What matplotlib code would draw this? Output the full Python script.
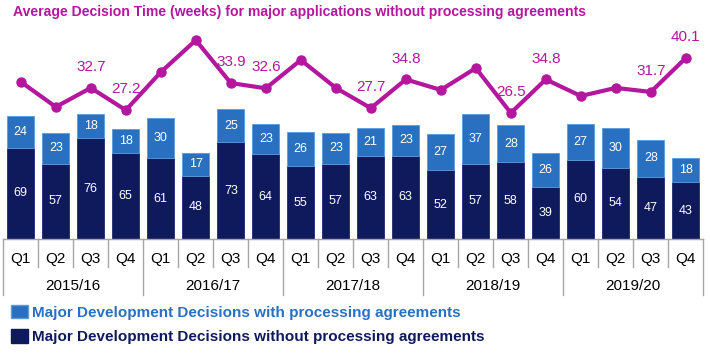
import matplotlib
matplotlib.use("Agg")
import matplotlib.pyplot as plt
import numpy as np
from matplotlib.patches import Patch

plt.rcParams['font.family'] = ['Liberation Sans', 'DejaVu Sans']

quarters = ["Q1", "Q2", "Q3", "Q4"] * 5
years = ["2015/16", "2016/17", "2017/18", "2018/19", "2019/20"]
without_pa = [69, 57, 76, 65, 61, 48, 73, 64, 55, 57, 63, 63, 52, 57, 58, 39, 60, 54, 47, 43]
with_pa = [24, 23, 18, 18, 30, 17, 25, 23, 26, 23, 21, 23, 27, 37, 28, 26, 27, 30, 28, 18]
avg_weeks = [34.2, 28.0, 32.7, 27.2, 36.6, 44.5, 33.9, 32.6, 39.6, 32.7,
             27.7, 34.8, 32.2, 37.6, 26.5, 34.8, 30.7, 32.7, 31.7, 40.1]
labelled = [2, 3, 6, 7, 10, 11, 14, 15, 18, 19]

C_LIGHT = "#2A70C0"
C_LIGHT_EDGE = "#5C9BD8"
C_DARK = "#0E1A5C"
C_MAG = "#B4169E"
C_GRID = "#A6A6A6"

fig = plt.figure(figsize=(7.1, 3.57), dpi=100)
W, H = 710, 357
ax_bottom_px, ax_top_px = 239.3, 30
ax = fig.add_axes([3.3 / W, 1 - ax_bottom_px / H, 700 / W, (ax_bottom_px - ax_top_px) / H])

x = np.arange(len(quarters))
bw = 0.78
b1 = ax.bar(x, without_pa, bw, color=C_DARK, edgecolor="#1F2B70", linewidth=0.6, zorder=2)
b2 = ax.bar(x, with_pa, bw, bottom=without_pa, color=C_LIGHT, edgecolor=C_LIGHT_EDGE,
            linewidth=0.6, zorder=2)

for i in range(len(x)):
    ax.text(x[i], without_pa[i] / 2, str(without_pa[i]), ha="center", va="center",
            color="white", fontsize=9, zorder=3)
    ax.text(x[i], without_pa[i] + with_pa[i] / 2, str(with_pa[i]), ha="center", va="center",
            color="white", fontsize=9, zorder=3)

ax.set_xlim(-0.5, len(x) - 0.5)
ax.set_ylim(0, 157.5)
ax.set_yticks([])
ax.set_xticks([])
for s in ["top", "right", "left"]:
    ax.spines[s].set_visible(False)
ax.spines["bottom"].set_color(C_GRID)
ax.spines["bottom"].set_linewidth(1.0)

# category axis separators and labels
trans = ax.get_xaxis_transform()
span = ax_bottom_px - ax_top_px
q_y = -(259 - ax_bottom_px) / span
yr_y = -(286 - ax_bottom_px) / span
q_line = -(267 - ax_bottom_px) / span
g_line = -(295 - ax_bottom_px) / span
for k in range(len(x) + 1):
    xb = k - 0.5
    low = g_line if k % 4 == 0 else q_line
    ax.plot([xb, xb], [0, low], transform=trans, color=C_GRID, lw=1.0, clip_on=False)
for i, q in enumerate(quarters):
    ax.text(x[i], q_y, q, transform=trans, ha="center", va="center", fontsize=11, color="black")
for g, yr in enumerate(years):
    ax.text(g * 4 + 1.5, yr_y, yr, transform=trans, ha="center", va="center", fontsize=11,
            color="black")

# line on secondary axis
ax2 = ax.twinx()
ax2.set_ylim(-4.74, 47.02)
ax2.axis("off")
ax2.plot(x, avg_weeks, color=C_MAG, lw=3, marker="o", markersize=6.5, zorder=4)
for i in labelled:
    ax2.annotate(f"{avg_weeks[i]:.1f}", (x[i], avg_weeks[i]), xytext=(0, 15),
                 textcoords="offset points", ha="center", va="center",
                 fontsize=11, color=C_MAG)

fig.text(13 / W, 1 - 12 / H, "Average Decision Time (weeks) for major applications without processing agreements",
         ha="left", va="center", fontsize=10.1, fontweight="bold", color=C_MAG)

# legend
handles = [Patch(facecolor=C_LIGHT, edgecolor=C_LIGHT_EDGE),
           Patch(facecolor=C_DARK, edgecolor=C_DARK)]
labels = ["Major Development Decisions with processing agreements",
          "Major Development Decisions without processing agreements"]
leg = fig.legend(handles, labels, loc="upper left", bbox_to_anchor=(8 / W, 1 - 302 / H),
                 frameon=False, prop={"weight": "bold", "size": 11},
                 handlelength=1.1, handleheight=0.95, handletextpad=0.3, labelspacing=0.62,
                 borderaxespad=0, borderpad=0.2)
for t, c in zip(leg.get_texts(), [C_LIGHT, C_DARK]):
    t.set_color(c)

fig.savefig("out.png", dpi=100)
